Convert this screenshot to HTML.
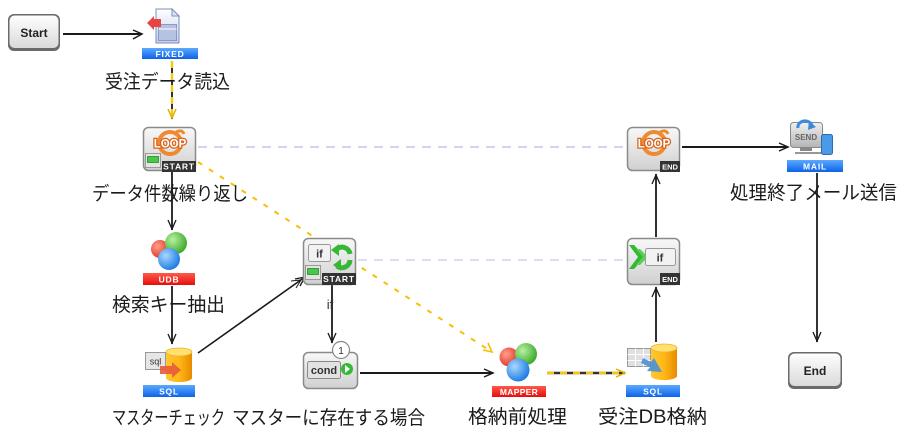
<!DOCTYPE html>
<html><head><meta charset="utf-8"><style>
html,body{margin:0;padding:0;background:#fff;}
svg{display:block;}
.lbl{font-family:"Liberation Sans","Noto Sans CJK JP",sans-serif;font-size:19px;fill:#1a1a1a;}
.tag{font-family:"Liberation Sans",sans-serif;font-weight:bold;font-size:8.5px;fill:#fff;letter-spacing:0.8px;}
.btn{font-family:"Liberation Sans",sans-serif;font-weight:bold;font-size:12px;fill:#222;}
.sm{font-family:"Liberation Sans",sans-serif;font-weight:bold;fill:#333;}
</style></head><body>
<svg width="908" height="446" viewBox="0 0 908 446" xmlns="http://www.w3.org/2000/svg">
<defs>
<linearGradient id="gBtn" x1="0" y1="0" x2="0" y2="1"><stop offset="0" stop-color="#fefefe"/><stop offset="1" stop-color="#dadada"/></linearGradient>
<linearGradient id="gFrame" x1="0" y1="0" x2="0" y2="1"><stop offset="0" stop-color="#f8f8f8"/><stop offset="1" stop-color="#d0d0d0"/></linearGradient>
<linearGradient id="gBlue" x1="0" y1="0" x2="0" y2="1"><stop offset="0" stop-color="#5aaaff"/><stop offset="1" stop-color="#0f62e6"/></linearGradient>
<linearGradient id="gRed" x1="0" y1="0" x2="0" y2="1"><stop offset="0" stop-color="#ff5a48"/><stop offset="1" stop-color="#e30f0f"/></linearGradient>
<linearGradient id="gCyl" x1="0" y1="0" x2="1" y2="0"><stop offset="0" stop-color="#ffc830"/><stop offset="0.5" stop-color="#ffb818"/><stop offset="1" stop-color="#e88a00"/></linearGradient>
<linearGradient id="gPage" x1="0" y1="0" x2="0" y2="1"><stop offset="0" stop-color="#ffffff"/><stop offset="1" stop-color="#c4d0ea"/></linearGradient>
<linearGradient id="gMon" x1="0" y1="0" x2="0" y2="1"><stop offset="0" stop-color="#f0f0f0"/><stop offset="1" stop-color="#b4b4b4"/></linearGradient>
<radialGradient id="bR" cx="0.35" cy="0.35" r="0.7"><stop offset="0" stop-color="#ffa090"/><stop offset="1" stop-color="#e0301e"/></radialGradient>
<radialGradient id="bG" cx="0.35" cy="0.35" r="0.7"><stop offset="0" stop-color="#b8f0a0"/><stop offset="1" stop-color="#3aa82a"/></radialGradient>
<radialGradient id="bB" cx="0.35" cy="0.35" r="0.7"><stop offset="0" stop-color="#a8d8ff"/><stop offset="1" stop-color="#1a78e0"/></radialGradient>
</defs>

<!-- ===== connectors ===== -->
<!-- lavender dashed -->
<line x1="198" y1="147" x2="627" y2="147" stroke="#c4c4f4" stroke-width="1.5" stroke-dasharray="9,7"/>
<line x1="358" y1="260" x2="627" y2="260" stroke="#c8c8f2" stroke-width="1.3" stroke-dasharray="9,7"/>

<!-- Start -> FIXED -->
<line x1="63" y1="34" x2="142" y2="34" stroke="#1a1a1a" stroke-width="2"/>
<polyline points="133,30 142,34 133,39" fill="none" stroke="#1a1a1a" stroke-width="1.5"/>

<!-- FIXED -> LOOP START (yellow/black) -->
<line x1="172" y1="61" x2="172" y2="119" stroke="#333" stroke-width="2"/>
<line x1="172" y1="61" x2="172" y2="119" stroke="#f5c518" stroke-width="2.4" stroke-dasharray="7,5"/>
<polyline points="168,109 172,118 176,109" fill="none" stroke="#e0b000" stroke-width="1.5"/>

<!-- LOOP START -> UDB -->
<line x1="172" y1="172" x2="172" y2="230" stroke="#1a1a1a" stroke-width="1.8"/>
<polyline points="168,220 172,229 176,220" fill="none" stroke="#1a1a1a" stroke-width="1.3"/>

<!-- UDB -> SQL -->
<line x1="172" y1="286" x2="172" y2="344" stroke="#1a1a1a" stroke-width="1.8"/>
<polyline points="168,334 172,343 176,334" fill="none" stroke="#1a1a1a" stroke-width="1.3"/>

<!-- SQL -> IF START -->
<line x1="198" y1="353" x2="305" y2="277" stroke="#1a1a1a" stroke-width="1.6"/>
<polyline points="300,286 305,277 295,279" fill="none" stroke="#1a1a1a" stroke-width="1.3"/>
<polyline points="296,288 301,280 291,281" fill="none" stroke="#1a1a1a" stroke-width="1"/>

<!-- IF START -> cond -->
<line x1="332" y1="285" x2="332" y2="343" stroke="#1a1a1a" stroke-width="1.8"/>
<polyline points="328,333 332,342 336,333" fill="none" stroke="#1a1a1a" stroke-width="1.3"/>
<text x="330" y="309" class="sm" style="font-weight:normal;font-size:13px" text-anchor="middle">if</text>

<!-- cond -> MAPPER -->
<line x1="360" y1="373" x2="493" y2="373" stroke="#1a1a1a" stroke-width="2"/>
<polyline points="484,369 493,373 484,377" fill="none" stroke="#1a1a1a" stroke-width="1.5"/>

<!-- yellow dashed LOOP START -> MAPPER -->
<line x1="198" y1="162" x2="492" y2="352" stroke="#f5c000" stroke-width="2" stroke-dasharray="5,8"/>
<polyline points="483,350 492,352 488,343" fill="none" stroke="#f5c000" stroke-width="1.6"/>

<!-- MAPPER -> SQL2 (yellow/black) -->
<line x1="547" y1="373" x2="625" y2="373" stroke="#333" stroke-width="2.5"/>
<line x1="547" y1="373" x2="625" y2="373" stroke="#f5c518" stroke-width="2.8" stroke-dasharray="7,6"/>
<polyline points="616,369 625,373 616,377" fill="none" stroke="#e0b000" stroke-width="1.5"/>

<!-- SQL2 -> IF END -->
<line x1="656" y1="342" x2="656" y2="287" stroke="#1a1a1a" stroke-width="1.8"/>
<polyline points="652,297 656,288 660,297" fill="none" stroke="#1a1a1a" stroke-width="1.3"/>

<!-- IF END -> LOOP END -->
<line x1="656" y1="237" x2="656" y2="174" stroke="#1a1a1a" stroke-width="1.8"/>
<polyline points="652,184 656,175 660,184" fill="none" stroke="#1a1a1a" stroke-width="1.3"/>

<!-- LOOP END -> MAIL -->
<line x1="682" y1="147" x2="788" y2="147" stroke="#1a1a1a" stroke-width="2"/>
<polyline points="779,143 788,147 779,151" fill="none" stroke="#1a1a1a" stroke-width="1.5"/>

<!-- MAIL -> End -->
<line x1="817" y1="173" x2="817" y2="342" stroke="#333" stroke-width="2"/>
<polyline points="813,332 817,341 821,332" fill="none" stroke="#1a1a1a" stroke-width="1.3"/>

<!-- ===== Start / End ===== -->
<rect x="8" y="14" width="52" height="37" rx="6" fill="#6a6a6a"/>
<rect x="9.5" y="15.5" width="49" height="32.5" rx="5" fill="url(#gBtn)"/>
<text x="34" y="37" class="btn" text-anchor="middle">Start</text>

<rect x="788" y="352" width="54" height="37" rx="6" fill="#6a6a6a"/>
<rect x="789.5" y="353.5" width="51" height="32.5" rx="5" fill="url(#gBtn)"/>
<text x="815" y="375" class="btn" text-anchor="middle">End</text>

<!-- ===== FIXED ===== -->
<path d="M156 9 L172 9 L179 16 L179 43 L156 43 Z" fill="url(#gPage)" stroke="#7a90bc" stroke-width="1"/>
<path d="M172 9 L172 16 L179 16 Z" fill="#dde6f4" stroke="#7a90bc" stroke-width="1"/>
<rect x="158.5" y="24.5" width="18" height="16" fill="#b6c2e2" stroke="#8a9ac4" stroke-width="1"/>
<line x1="158.5" y1="29" x2="176.5" y2="29" stroke="#fff" stroke-width="1"/>
<path d="M147 23 L154 16 L154 19 L161 19 L161 27 L154 27 L154 30 Z" fill="#e84444"/>
<rect x="142" y="48" width="56" height="11" fill="url(#gBlue)"/>
<text x="170" y="56.8" class="tag" text-anchor="middle">FIXED</text>

<!-- ===== LOOP START ===== -->
<rect x="143.5" y="127.5" width="52" height="43" rx="5" fill="url(#gFrame)" stroke="#8a8a8a" stroke-width="1.5"/>
<circle cx="170" cy="143" r="11" fill="none" stroke="#f08a30" stroke-width="4"/>
<path d="M176 132 q6 -3 8 2" fill="none" stroke="#f08a30" stroke-width="3"/>
<text x="170" y="147.5" class="sm" style="font-size:11.5px;fill:#fff;stroke:#d8641a;stroke-width:2.5px;paint-order:stroke" text-anchor="middle">LOOP</text>
<rect x="145.5" y="153.5" width="15" height="14" fill="#e4e4e4" stroke="#999"/>
<rect x="147.5" y="156.5" width="11" height="6" fill="#48c848" stroke="#2a8a2a" stroke-width="0.8"/>
<rect x="162" y="161" width="34" height="11" fill="#333"/>
<text x="179" y="169.6" class="tag" text-anchor="middle">START</text>

<!-- ===== LOOP END ===== -->
<rect x="627.5" y="127.5" width="52" height="43" rx="5" fill="url(#gFrame)" stroke="#8a8a8a" stroke-width="1.5"/>
<circle cx="654" cy="143" r="11" fill="none" stroke="#f08a30" stroke-width="4"/>
<path d="M660 132 q6 -3 8 2" fill="none" stroke="#f08a30" stroke-width="3"/>
<text x="654" y="147.5" class="sm" style="font-size:11.5px;fill:#fff;stroke:#d8641a;stroke-width:2.5px;paint-order:stroke" text-anchor="middle">LOOP</text>
<rect x="660" y="161" width="20" height="11" fill="#333"/>
<text x="670" y="169.6" class="tag" style="font-size:7.5px;letter-spacing:0" text-anchor="middle">END</text>

<!-- ===== UDB ===== -->
<circle cx="160" cy="249" r="9" fill="url(#bR)"/>
<circle cx="176" cy="243" r="11" fill="url(#bG)"/>
<circle cx="169" cy="259" r="11" fill="url(#bB)"/>
<rect x="143" y="273" width="52" height="12" fill="url(#gRed)"/>
<text x="169" y="282.3" class="tag" text-anchor="middle">UDB</text>

<!-- ===== SQL1 ===== -->
<path d="M166 352 v26 a13 4 0 0 0 26 0 v-26 z" fill="url(#gCyl)"/>
<ellipse cx="179" cy="352" rx="13" ry="4" fill="#ffe070" stroke="#f0b020" stroke-width="0.8"/>
<rect x="145.5" y="352.5" width="20" height="17" fill="#e6e6e6" stroke="#999"/>
<text x="155.5" y="364.5" class="sm" style="font-size:9px;font-weight:normal" text-anchor="middle">sql</text>
<path d="M160 366 L172 366 L172 362 L181 370 L172 378 L172 374 L160 374 Z" fill="#e85a3a" opacity="0.9"/>
<rect x="143" y="385" width="52" height="12" fill="url(#gBlue)"/>
<text x="169" y="394.3" class="tag" text-anchor="middle">SQL</text>

<!-- ===== IF START ===== -->
<rect x="303.5" y="238.5" width="52" height="46" rx="5" fill="url(#gFrame)" stroke="#8a8a8a" stroke-width="1.5"/>
<rect x="308.5" y="244.5" width="22" height="17" rx="2" fill="#f2f2f2" stroke="#999"/>
<text x="319.5" y="257.5" class="sm" style="font-size:11px" text-anchor="middle">if</text>
<path d="M336 250 A8 8 0 0 1 350 254" fill="none" stroke="#36b836" stroke-width="5"/>
<path d="M331 250 L339 244 L339 256 Z" fill="#36b836"/>
<path d="M350 260 A8 8 0 0 1 337 266" fill="none" stroke="#36b836" stroke-width="5"/>
<path d="M333 265 L341 259 L341 271 Z" fill="#36b836"/>
<rect x="305.5" y="265.5" width="15" height="14" fill="#e4e4e4" stroke="#999"/>
<rect x="307.5" y="268.5" width="11" height="6" fill="#48c848" stroke="#2a8a2a" stroke-width="0.8"/>
<rect x="322" y="273" width="34" height="12" fill="#333"/>
<text x="339" y="282" class="tag" text-anchor="middle">START</text>

<!-- ===== IF END ===== -->
<rect x="627.5" y="238.5" width="52" height="46" rx="5" fill="url(#gFrame)" stroke="#8a8a8a" stroke-width="1.5"/>
<path d="M629 245 L634 245 L645 257 L634 269 L629 269 L638 257 Z" fill="#36b836"/>
<path d="M636 249 L640 249 L648 257 L640 265 L636 265 L643 257 Z" fill="#5ad05a"/>
<rect x="645.5" y="248.5" width="30" height="17" rx="2" fill="#f2f2f2" stroke="#999"/>
<text x="660" y="261.5" class="sm" style="font-size:11px" text-anchor="middle">if</text>
<rect x="660" y="273" width="20" height="12" fill="#333"/>
<text x="670" y="282" class="tag" style="font-size:7.5px;letter-spacing:0" text-anchor="middle">END</text>

<!-- ===== cond ===== -->
<rect x="303.5" y="352.5" width="54" height="36" rx="5" fill="url(#gFrame)" stroke="#8a8a8a" stroke-width="1.5"/>
<rect x="307.5" y="361.5" width="33" height="17" rx="2" fill="#e2e2e2" stroke="#888"/>
<text x="324" y="374" class="sm" style="font-size:11px" text-anchor="middle">cond</text>
<circle cx="347" cy="369" r="6" fill="#36b836"/>
<path d="M345 365 L350 369 L345 373 Z" fill="#fff"/>
<circle cx="341" cy="350" r="8.5" fill="#fff" stroke="#888" stroke-width="1.2"/>
<text x="341" y="354" class="sm" style="font-size:10px;font-weight:normal" text-anchor="middle">1</text>

<!-- ===== MAPPER ===== -->
<circle cx="509" cy="357" r="9.5" fill="url(#bR)"/>
<circle cx="526" cy="354" r="11" fill="url(#bG)"/>
<circle cx="518" cy="370" r="11.5" fill="url(#bB)"/>
<rect x="492" y="386" width="54" height="11" fill="url(#gRed)"/>
<text x="519" y="394.8" class="tag" style="letter-spacing:0.3px" text-anchor="middle">MAPPER</text>

<!-- ===== SQL2 ===== -->
<path d="M651 348 v28 a13 4 0 0 0 26 0 v-28 z" fill="url(#gCyl)"/>
<ellipse cx="664" cy="348" rx="13" ry="4" fill="#ffe070" stroke="#f0b020" stroke-width="0.8"/>
<rect x="627.5" y="348.5" width="23" height="18" fill="#e0e0e0" stroke="#999"/>
<line x1="627.5" y1="354.5" x2="650.5" y2="354.5" stroke="#fff"/>
<line x1="627.5" y1="360.5" x2="650.5" y2="360.5" stroke="#fff"/>
<line x1="635.5" y1="348.5" x2="635.5" y2="366.5" stroke="#fff"/>
<line x1="643.5" y1="348.5" x2="643.5" y2="366.5" stroke="#fff"/>
<path d="M643 358 L651 362 L654 358 L662 372 L647 371 L650 367 L641 363 Z" fill="#4a90d8" opacity="0.9"/>
<rect x="626" y="385" width="54" height="12" fill="url(#gBlue)"/>
<text x="653" y="394.3" class="tag" text-anchor="middle">SQL</text>

<!-- ===== MAIL ===== -->
<rect x="790.5" y="122.5" width="32" height="25" rx="3" fill="url(#gMon)" stroke="#888"/>
<text x="806" y="140" class="sm" style="font-size:8px;fill:#666" text-anchor="middle">SEND</text>
<path d="M798 128 A7 6 0 0 1 812 126" fill="none" stroke="#3a8ae0" stroke-width="3"/>
<path d="M809 121 L816 127 L808 130 Z" fill="#3a8ae0"/>
<rect x="800" y="148" width="12" height="3" fill="#888"/>
<line x1="795" y1="153" x2="822" y2="153" stroke="#777" stroke-width="1.5"/>
<rect x="821.5" y="134.5" width="11" height="20" rx="2" fill="#4a9ae8" stroke="#2a6ab8"/>
<rect x="787" y="160" width="56" height="12" fill="url(#gBlue)"/>
<text x="815" y="169.3" class="tag" text-anchor="middle">MAIL</text>

<!-- ===== labels ===== -->
<text x="105" y="88" class="lbl" textLength="125" lengthAdjust="spacingAndGlyphs">受注データ読込</text>
<text x="92" y="200" class="lbl" textLength="156" lengthAdjust="spacingAndGlyphs">データ件数繰り返し</text>
<text x="112" y="311" class="lbl" textLength="113" lengthAdjust="spacingAndGlyphs">検索キー抽出</text>
<text x="112" y="424" class="lbl" textLength="113" lengthAdjust="spacingAndGlyphs">マスターチェック</text>
<text x="232" y="424" class="lbl" textLength="193" lengthAdjust="spacingAndGlyphs">マスターに存在する場合</text>
<text x="468" y="423" class="lbl" textLength="99" lengthAdjust="spacingAndGlyphs">格納前処理</text>
<text x="598" y="423" class="lbl" textLength="109" lengthAdjust="spacingAndGlyphs">受注DB格納</text>
<text x="730" y="199" class="lbl" textLength="167" lengthAdjust="spacingAndGlyphs">処理終了メール送信</text>
</svg>
</body></html>
